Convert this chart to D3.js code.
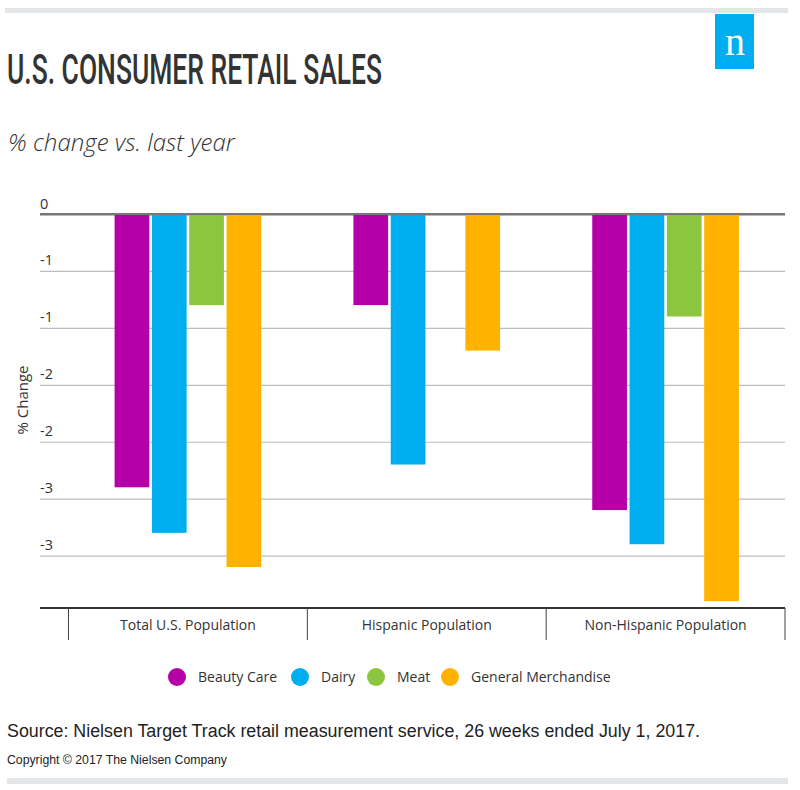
<!DOCTYPE html>
<html>
<head>
<meta charset="utf-8">
<script src="https://cdn.jsdelivr.net/npm/d3@7"></script>
<style>
  html, body { margin: 0; padding: 0; background: #fff; }
  svg { display: block; }
  text { font-family: "Open Sans", "Noto Sans", sans-serif; fill: #333; }
</style>
</head>
<body>
<svg id="chart" width="800" height="790"></svg>
<script>
// ---- data ----
const categories = ["Total U.S. Population", "Hispanic Population", "Non-Hispanic Population"];
const seriesNames = ["Beauty Care", "Dairy", "Meat", "General Merchandise"];
const beautyCare = [-2.4, -0.8, -2.6];
const dairy = [-2.8, -2.2, -2.9];
const meat = [-0.8, 0, -0.9];
const generalMerchandise = [-3.1, -1.2, -3.4];
const seriesColors = ["#b400a6", "#00aeef", "#8cc63f", "#ffb300"];
const yTickValues = [0, -0.5, -1, -1.5, -2, -2.5, -3];
const yTickLabels = ["0", "-1", "-1", "-2", "-2", "-3", "-3"];

const seriesValues = [beautyCare, dairy, meat, generalMerchandise];
const rows = categories.map((c, i) => ({
  category: c,
  values: seriesNames.map((s, j) => ({ series: s, value: seriesValues[j][i], color: seriesColors[j] }))
}));

const svg = d3.select("#chart");

// top and bottom decorative bars
svg.append("rect").attr("x", 5).attr("y", 8).attr("width", 783).attr("height", 5).attr("fill", "#e3e6e9");
svg.append("rect").attr("x", 7).attr("y", 778).attr("width", 781).attr("height", 6).attr("fill", "#e3e6e9");

// logo
svg.append("rect").attr("x", 715).attr("y", 14).attr("width", 39).attr("height", 55).attr("fill", "#00aeef");
svg.append("text").attr("x", 735).attr("y", 55).attr("text-anchor", "middle")
  .style("font-family", "'Liberation Serif', 'DejaVu Serif', serif").style("font-size", "40px")
  .style("fill", "#fff").text("n");

// title
svg.append("text").attr("x", 7).attr("y", 83.5)
  .attr("textLength", 375).attr("lengthAdjust", "spacingAndGlyphs")
  .style("font-family", "Roboto, 'Open Sans', sans-serif").style("font-size", "43px")
  .style("font-weight", 500).style("fill", "#333")
  .text("U.S. CONSUMER RETAIL SALES");

// subtitle
svg.append("text").attr("x", 8).attr("y", 151)
  .attr("textLength", 227).attr("lengthAdjust", "spacingAndGlyphs")
  .style("font-size", "23px").style("font-style", "italic").style("font-weight", 300)
  .text("% change vs. last year");

// scales
const x0 = d3.scaleBand().domain(categories).range([68.5, 785]).paddingInner(0).paddingOuter(0);
const x1 = d3.scaleBand().domain(seriesNames).range([0, x0.bandwidth()]).paddingInner(0.07).paddingOuter(1.235);
const y = d3.scaleLinear().domain([-3.46, 0]).range([608, 214]);

// y axis with gridlines
const yAxis = d3.axisLeft(y).tickValues(yTickValues).tickSize(-745)
  .tickFormat((d, i) => yTickLabels[i]);
const gy = svg.append("g").attr("transform", "translate(40,0)").call(yAxis);
gy.select(".domain").remove();
gy.selectAll(".tick line")
  .attr("stroke", d => d === 0 ? "#777" : "#bdbdbd")
  .attr("stroke-width", d => d === 0 ? 2 : 1.2);
gy.selectAll(".tick text")
  .attr("x", 0).attr("y", 0).attr("dy", "-6").attr("text-anchor", "start")
  .style("font-size", "14.5px").style("fill", "#333").style("font-family", "'Open Sans', sans-serif");

// y axis title
svg.append("text").attr("transform", "translate(28,400) rotate(-90)")
  .attr("text-anchor", "middle").style("font-size", "15px").text("% Change");

// bars
const groups = svg.append("g").selectAll("g").data(rows).join("g")
  .attr("transform", d => `translate(${x0(d.category)},0)`);
groups.selectAll("rect").data(d => d.values).join("rect")
  .attr("x", d => x1(d.series))
  .attr("width", x1.bandwidth())
  .attr("y", d => y(Math.max(0, d.value)))
  .attr("height", d => Math.abs(y(d.value) - y(0)))
  .attr("fill", d => d.color);

// redraw zero line over bar tops
svg.append("line").attr("x1", 40).attr("x2", 785).attr("y1", y(0)).attr("y2", y(0))
  .attr("stroke", "#777").attr("stroke-width", 2);

// bottom axis
const xAxis = d3.axisBottom(x0).tickSize(0).tickPadding(10);
const gx = svg.append("g").attr("transform", `translate(0,${y(-3.46)})`).call(xAxis);
gx.select(".domain").remove();
gx.selectAll(".tick text").style("font-size", "14px").style("fill", "#333")
  .style("font-family", "'Open Sans', sans-serif").attr("y", 12).attr("dy", "0.71em");
svg.append("line").attr("x1", 40).attr("x2", 785).attr("y1", y(-3.46)).attr("y2", y(-3.46))
  .attr("stroke", "#333").attr("stroke-width", 2);
const dividers = categories.map(c => x0(c)).concat([x0(categories[categories.length - 1]) + x0.bandwidth()]);
svg.append("g").selectAll("line").data(dividers).join("line")
  .attr("x1", d => d).attr("x2", d => d)
  .attr("y1", y(-3.46)).attr("y2", y(-3.46) + 32)
  .attr("stroke", "#444").attr("stroke-width", 1);

// legend
const legendX = [177, 300, 376, 450];
const legend = svg.append("g").selectAll("g").data(seriesNames).join("g")
  .attr("transform", (d, i) => `translate(${legendX[i]},677)`);
legend.append("circle").attr("r", 9).attr("fill", (d, i) => seriesColors[i]);
legend.append("text").attr("x", 21).attr("y", 5).style("font-size", "14px").text(d => d);

// footer
svg.append("text").attr("x", 7).attr("y", 737)
  .attr("textLength", 693).attr("lengthAdjust", "spacingAndGlyphs")
  .style("font-family", "'Liberation Sans', Arial, sans-serif").style("font-size", "18px").style("fill", "#222")
  .text("Source: Nielsen Target Track retail measurement service, 26 weeks ended July 1, 2017.");
svg.append("text").attr("x", 7).attr("y", 764)
  .attr("textLength", 220).attr("lengthAdjust", "spacingAndGlyphs")
  .style("font-family", "'Liberation Sans', Arial, sans-serif").style("font-size", "12px").style("fill", "#222")
  .text("Copyright © 2017 The Nielsen Company");
</script>
</body>
</html>
